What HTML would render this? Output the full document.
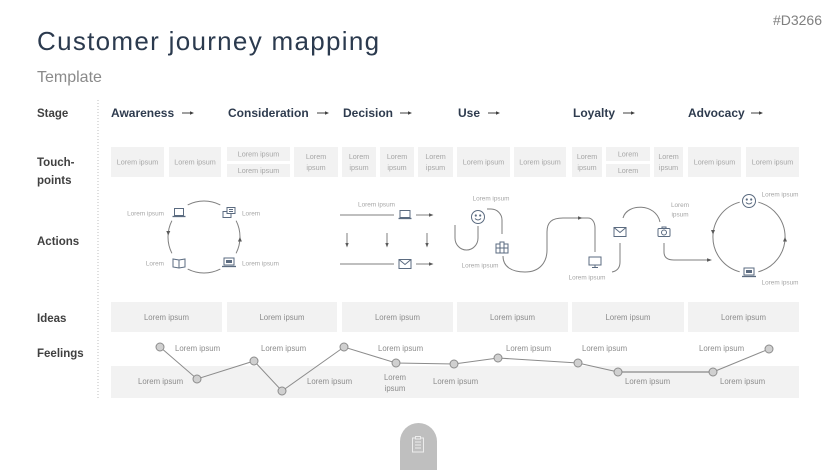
<!DOCTYPE html>
<html><head><meta charset="utf-8"><style>
html,body{margin:0;padding:0;background:#fff;}
svg{display:block;}
text{font-family:"Liberation Sans",sans-serif;}
.h{font-weight:bold;font-size:12px;fill:#2e3b4e;}
.l{font-weight:bold;font-size:11.5px;fill:#404040;}
.tp{font-size:7.2px;fill:#a6a6a6;}
.ac{font-size:6.4px;fill:#a6a6a6;}
.fe{font-size:7.8px;fill:#8c8c8c;}
.ic{fill:none;stroke:#5b6b80;stroke-width:1;}
.ln{fill:none;stroke:#7f7f7f;stroke-width:1;}
</style></head><body>
<svg width="836" height="470" viewBox="0 0 836 470" xmlns="http://www.w3.org/2000/svg">
<!-- title -->
<text x="37" y="50" font-size="26" letter-spacing="1.3" fill="#2b3a4e">Customer journey mapping</text>
<text x="37" y="82" font-size="16" fill="#8a8a8a">Template</text>
<text x="822" y="25" font-size="14" fill="#7f7f7f" text-anchor="end">#D3266</text>

<!-- dotted divider -->
<line x1="98" y1="100" x2="98" y2="398" stroke="#bfbfbf" stroke-width="1" stroke-dasharray="1,2"/>

<!-- left labels -->
<text class="l" x="37" y="117">Stage</text>
<text class="l" x="37" y="166">Touch-</text>
<text class="l" x="37" y="184">points</text>
<text class="l" x="37" y="245">Actions</text>
<text class="l" x="37" y="322">Ideas</text>
<text class="l" x="37" y="357">Feelings</text>

<!-- stage headers -->
<text class="h" x="111" y="117">Awareness</text>
<text class="h" x="228" y="117">Consideration</text>
<text class="h" x="343" y="117">Decision</text>
<text class="h" x="458" y="117">Use</text>
<text class="h" x="573" y="117">Loyalty</text>
<text class="h" x="688" y="117">Advocacy</text>
<g stroke="#404040" stroke-width="1" fill="#404040">
<line x1="182" y1="113" x2="191" y2="113"/><polygon points="190,111.3 194,113 190,114.7" stroke="none"/>
<line x1="317" y1="113" x2="326" y2="113"/><polygon points="325,111.3 329,113 325,114.7" stroke="none"/>
<line x1="400" y1="113" x2="409" y2="113"/><polygon points="408,111.3 412,113 408,114.7" stroke="none"/>
<line x1="488" y1="113" x2="497" y2="113"/><polygon points="496,111.3 500,113 496,114.7" stroke="none"/>
<line x1="623" y1="113" x2="632" y2="113"/><polygon points="631,111.3 635,113 631,114.7" stroke="none"/>
<line x1="751" y1="113" x2="760" y2="113"/><polygon points="759,111.3 763,113 759,114.7" stroke="none"/>
</g>

<!-- touchpoints -->
<g fill="#f2f2f2">
<rect x="111" y="147" width="53" height="30"/>
<rect x="169" y="147" width="52" height="30"/>
<rect x="227" y="147" width="63" height="14"/>
<rect x="227" y="164" width="63" height="13"/>
<rect x="294" y="147" width="44" height="30"/>
<rect x="342" y="147" width="34" height="30"/>
<rect x="380" y="147" width="34" height="30"/>
<rect x="418" y="147" width="35" height="30"/>
<rect x="457" y="147" width="53" height="30"/>
<rect x="514" y="147" width="52" height="30"/>
<rect x="572" y="147" width="30" height="30"/>
<rect x="606" y="147" width="44" height="14"/>
<rect x="606" y="164" width="44" height="13"/>
<rect x="654" y="147" width="29" height="30"/>
<rect x="688" y="147" width="53" height="30"/>
<rect x="746" y="147" width="53" height="30"/>
</g>
<g class="tp" text-anchor="middle">
<text x="137.5" y="164.5">Lorem ipsum</text>
<text x="195" y="164.5">Lorem ipsum</text>
<text x="258.5" y="156.5">Lorem ipsum</text>
<text x="258.5" y="173">Lorem ipsum</text>
<text x="316" y="159">Lorem</text><text x="316" y="170">ipsum</text>
<text x="359" y="159">Lorem</text><text x="359" y="170">ipsum</text>
<text x="397" y="159">Lorem</text><text x="397" y="170">ipsum</text>
<text x="435.5" y="159">Lorem</text><text x="435.5" y="170">ipsum</text>
<text x="483.5" y="164.5">Lorem ipsum</text>
<text x="540" y="164.5">Lorem ipsum</text>
<text x="587" y="159">Lorem</text><text x="587" y="170">ipsum</text>
<text x="628" y="156.5">Lorem</text>
<text x="628" y="173">Lorem</text>
<text x="668.5" y="159">Lorem</text><text x="668.5" y="170">ipsum</text>
<text x="714.5" y="164.5">Lorem ipsum</text>
<text x="772.5" y="164.5">Lorem ipsum</text>
</g>

<!-- ACTIONS: Awareness circle -->
<g class="ln">
<path d="M187.7,204.9 A36,36 0 0 1 220.3,204.9"/>
<path d="M236.1,220.7 A36,36 0 0 1 236.1,253.3"/>
<path d="M220.3,269.1 A36,36 0 0 1 187.7,269.1"/>
<path d="M171.9,253.3 A36,36 0 0 1 171.9,220.7"/>
</g>
<g fill="#5a5a5a">
<polygon points="166.3,231 170.3,231 168.2,235.5"/>
<polygon points="237.9,241.5 241.9,241.5 240,237"/>
</g>
<g class="ac">
<text x="164" y="215.5" text-anchor="end">Lorem ipsum</text>
<text x="242" y="215.5">Lorem</text>
<text x="164" y="265.5" text-anchor="end">Lorem</text>
<text x="242" y="265.5">Lorem ipsum</text>
</g>
<!-- laptop -->
<g class="ic" transform="translate(179,213)">
<rect x="-4.5" y="-4.5" width="9" height="7"/><line x1="-6.5" y1="3.5" x2="6.5" y2="3.5" stroke-width="1.3"/>
</g>
<!-- chat -->
<g class="ic" transform="translate(229,213)">
<rect x="-6" y="-1.5" width="8" height="6" fill="#fff"/><rect x="-2" y="-5.5" width="8" height="6" fill="#fff"/>
<line x1="0" y1="-3.5" x2="4" y2="-3.5"/><line x1="0" y1="-1.5" x2="4" y2="-1.5"/>
</g>
<!-- book -->
<g class="ic" transform="translate(179,263)">
<path d="M-6,-4 L-6,4 L0,5 L6,4 L6,-4 L0,-3 Z M0,-3 V5"/>
</g>
<!-- laptop with screen -->
<g class="ic" transform="translate(229,263)">
<rect x="-5" y="-5" width="10" height="7"/><rect x="-3" y="-3" width="6" height="3" fill="#5b6b80" stroke="none"/>
<line x1="-7" y1="3.5" x2="7" y2="3.5" stroke-width="1.3"/>
</g>

<!-- ACTIONS: Decision -->
<text class="ac" x="376.5" y="206.5" text-anchor="middle">Lorem ipsum</text>
<g class="ln">
<line x1="340" y1="215" x2="394" y2="215"/>
<line x1="416" y1="215" x2="430" y2="215"/>
<line x1="340" y1="264" x2="394" y2="264"/>
<line x1="416" y1="264" x2="430" y2="264"/>
<line x1="347" y1="233" x2="347" y2="244"/>
<line x1="387" y1="233" x2="387" y2="244"/>
<line x1="427" y1="233" x2="427" y2="244"/>
</g>
<g fill="#5a5a5a">
<polygon points="429,213.3 433.5,215 429,216.7"/>
<polygon points="429,262.3 433.5,264 429,265.7"/>
<polygon points="345.3,243 348.7,243 347,247.5"/>
<polygon points="385.3,243 388.7,243 387,247.5"/>
<polygon points="425.3,243 428.7,243 427,247.5"/>
</g>
<g class="ic" transform="translate(405,215)">
<rect x="-5" y="-4.5" width="10" height="7"/><line x1="-6.5" y1="3.5" x2="6.5" y2="3.5" stroke-width="1.3"/>
</g>
<g class="ic" transform="translate(405,264)">
<rect x="-6" y="-4.5" width="12" height="9"/><path d="M-6,-4.5 L0,0.5 L6,-4.5"/>
</g>

<!-- ACTIONS: Use -->
<text class="ac" x="491" y="200.5" text-anchor="middle">Lorem ipsum</text>
<text class="ac" x="480" y="267.5" text-anchor="middle">Lorem ipsum</text>
<g class="ln">
<path d="M455,225 V238 A11.5,12 0 0 0 478,238 V226"/>
<path d="M487,209 H491 A11,11 0 0 1 502,220 V234"/>
<path d="M503,256 C503,267 512,272 525,272 C540,272 547,262 547,250 V232 C547,222 552,218 563,218 H588 C592,218 595,222 595,228 V252"/>
</g>
<polygon points="578,216.3 582.5,218 578,219.7" fill="#5a5a5a"/>
<g class="ic" transform="translate(478,217)">
<circle r="6.5"/><circle cx="-2.2" cy="-1.5" r="0.6" fill="#5b6b80"/><circle cx="2.2" cy="-1.5" r="0.6" fill="#5b6b80"/>
<path d="M-3,1.5 Q0,4.5 3,1.5"/>
</g>
<g transform="translate(502,247)" fill="none" stroke="#5b6b80" stroke-width="1">
<rect x="-6" y="-3" width="4" height="9"/><rect x="-2" y="-5" width="4" height="11"/><rect x="2" y="-3" width="4" height="9"/>
<line x1="-6" y1="1" x2="6" y2="1"/>
</g>

<!-- ACTIONS: Loyalty -->
<text class="ac" x="587" y="279.5" text-anchor="middle">Lorem ipsum</text>
<text class="ac" x="680" y="207" text-anchor="middle">Lorem</text>
<text class="ac" x="680" y="216.5" text-anchor="middle">ipsum</text>
<g class="ln">
<path d="M620,243 V262 C620,268 617,271 612,272"/>
<path d="M623,218 C627,203 656,203 660,222"/>
<path d="M664,243 V252 C664,258 668,260 674,260 H708"/>
</g>
<polygon points="707,258.3 712,260 707,261.7" fill="#5a5a5a"/>
<g class="ic" transform="translate(595,262)">
<rect x="-6" y="-5" width="12" height="8"/><line x1="0" y1="3" x2="0" y2="5.5"/><line x1="-3" y1="5.5" x2="3" y2="5.5"/>
</g>
<g class="ic" transform="translate(620,232)">
<rect x="-6" y="-4.5" width="12" height="9"/><path d="M-6,-4.5 L0,0.5 L6,-4.5"/>
</g>
<g class="ic" transform="translate(664,232)">
<rect x="-6" y="-3.5" width="12" height="8" rx="1"/><circle cx="0" cy="0.5" r="2.5"/><rect x="-2" y="-5" width="4" height="1.5"/>
</g>

<!-- ACTIONS: Advocacy circle -->
<g class="ln">
<path d="M739.7,202.2 A36,36 0 0 0 739.7,271.8"/>
<path d="M758.3,271.8 A36,36 0 0 0 758.3,202.2"/>
</g>
<g fill="#5a5a5a">
<polygon points="711,230 715,230 713,234.5"/>
<polygon points="783,241.5 787,241.5 785,237"/>
</g>
<text class="ac" x="780" y="196.5" text-anchor="middle">Lorem ipsum</text>
<text class="ac" x="780" y="284.5" text-anchor="middle">Lorem ipsum</text>
<g class="ic" transform="translate(749,201)">
<circle r="6.5"/><circle cx="-2.2" cy="-1.5" r="0.6" fill="#5b6b80"/><circle cx="2.2" cy="-1.5" r="0.6" fill="#5b6b80"/>
<path d="M-3,1.5 Q0,4.5 3,1.5"/>
</g>
<g class="ic" transform="translate(749,273)">
<rect x="-5" y="-5" width="10" height="7"/><rect x="-3" y="-3" width="6" height="3" fill="#5b6b80" stroke="none"/>
<line x1="-7" y1="3.5" x2="7" y2="3.5" stroke-width="1.3"/>
</g>

<!-- IDEAS -->
<g fill="#f2f2f2">
<rect x="111" y="302" width="111" height="30"/>
<rect x="227" y="302" width="110" height="30"/>
<rect x="342" y="302" width="111" height="30"/>
<rect x="457" y="302" width="111" height="30"/>
<rect x="572" y="302" width="112" height="30"/>
<rect x="688" y="302" width="111" height="30"/>
</g>
<g class="fe" text-anchor="middle">
<text x="166.5" y="320">Lorem ipsum</text>
<text x="282" y="320">Lorem ipsum</text>
<text x="397.5" y="320">Lorem ipsum</text>
<text x="512.5" y="320">Lorem ipsum</text>
<text x="628" y="320">Lorem ipsum</text>
<text x="743.5" y="320">Lorem ipsum</text>
</g>

<!-- FEELINGS -->
<rect x="111" y="366" width="688" height="32" fill="#f2f2f2"/>
<g class="fe">
<text x="175" y="351">Lorem ipsum</text>
<text x="138" y="384">Lorem ipsum</text>
<text x="261" y="351">Lorem ipsum</text>
<text x="307" y="384">Lorem ipsum</text>
<text x="378" y="351">Lorem ipsum</text>
<text x="395" y="380" text-anchor="middle">Lorem</text>
<text x="395" y="391" text-anchor="middle">ipsum</text>
<text x="433" y="384">Lorem ipsum</text>
<text x="506" y="351">Lorem ipsum</text>
<text x="582" y="351">Lorem ipsum</text>
<text x="625" y="384">Lorem ipsum</text>
<text x="699" y="351">Lorem ipsum</text>
<text x="720" y="384">Lorem ipsum</text>
</g>
<polyline points="160,347 197,379 254,361 282,391 344,347 396,363 454,364 498,358 578,363 618,372" fill="none" stroke="#8c8c8c" stroke-width="1"/>
<line x1="618" y1="372" x2="713" y2="372" stroke="#a6a6a6" stroke-width="1.8"/>
<line x1="713" y1="372" x2="769" y2="349" stroke="#8c8c8c" stroke-width="1"/>
<g fill="#d0d0d0" stroke="#8c8c8c" stroke-width="1">
<circle cx="160" cy="347" r="4"/>
<circle cx="197" cy="379" r="4"/>
<circle cx="254" cy="361" r="4"/>
<circle cx="282" cy="391" r="4"/>
<circle cx="344" cy="347" r="4"/>
<circle cx="396" cy="363" r="4"/>
<circle cx="454" cy="364" r="4"/>
<circle cx="498" cy="358" r="4"/>
<circle cx="578" cy="363" r="4"/>
<circle cx="618" cy="372" r="4"/>
<circle cx="713" cy="372" r="4"/>
<circle cx="769" cy="349" r="4"/>
</g>

<!-- bottom tab -->
<path d="M400,470 V441.5 A18.5,18.5 0 0 1 437,441.5 V470 Z" fill="#bfbfbf"/>
<g fill="none" stroke="#ececec" stroke-width="1">
<rect x="412.5" y="438" width="11" height="14"/>
<rect x="415.5" y="436.5" width="5" height="2.5" fill="#bfbfbf"/>
<line x1="415" y1="442" x2="421" y2="442"/>
<line x1="415" y1="445" x2="421" y2="445"/>
<line x1="415" y1="448" x2="421" y2="448"/>
</g>
</svg>
</body></html>
